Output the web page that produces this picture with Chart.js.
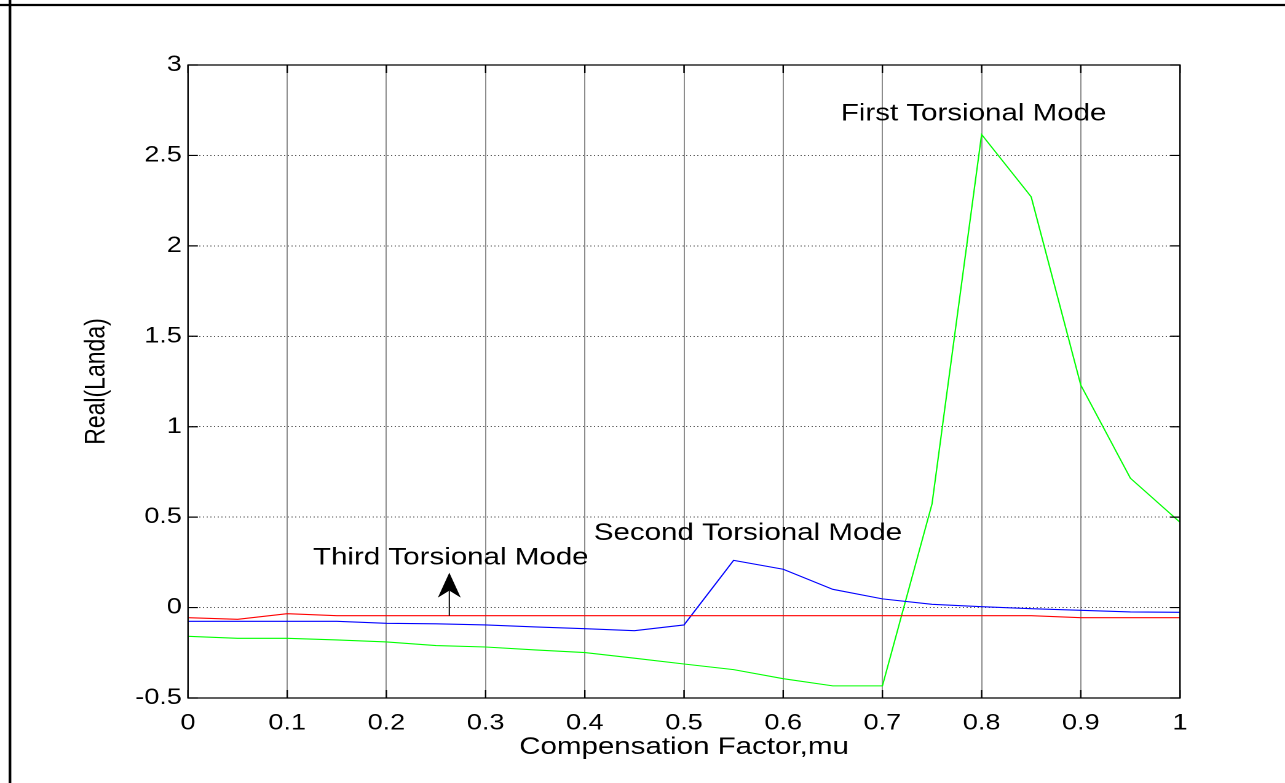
<!DOCTYPE html>
<html>
<head>
<meta charset="utf-8">
<script src="https://cdn.jsdelivr.net/npm/chart.js@4.4.1/dist/chart.umd.min.js"></script>
<style>
  html, body { margin: 0; padding: 0; background: #fff; overflow: hidden; }
  #fig { display: block; }
</style>
</head>
<body>
<!-- the figure is drawn on a narrower canvas and widened to the page, giving the wide-set lettering -->
<canvas id="fig" width="1045" height="783" style="width:1285px;height:783px"></canvas>
<script>
// compensation factor samples
const mu = [0, 0.05, 0.1, 0.15, 0.2, 0.25, 0.3, 0.35, 0.4, 0.45, 0.5,
            0.55, 0.6, 0.65, 0.7, 0.75, 0.8, 0.85, 0.9, 0.95, 1];

// real part of the eigenvalue for each torsional mode
const firstMode  = [-0.159, -0.170, -0.170, -0.179, -0.190, -0.210, -0.218, -0.234, -0.249, -0.280, -0.312,
                    -0.343, -0.393, -0.433, -0.433, 0.573, 2.616, 2.271, 1.230, 0.715, 0.472];
const secondMode = [-0.076, -0.076, -0.076, -0.076, -0.087, -0.090, -0.096, -0.107, -0.117, -0.128, -0.096,
                    0.261, 0.212, 0.101, 0.048, 0.018, 0.005, -0.006, -0.015, -0.024, -0.026];
const thirdMode  = [-0.056, -0.065, -0.034, -0.045, -0.045, -0.045, -0.045, -0.045, -0.045, -0.045, -0.045,
                    -0.045, -0.045, -0.045, -0.045, -0.045, -0.045, -0.045, -0.056, -0.056, -0.056];

const xTickValues = [0, 0.1, 0.2, 0.3, 0.4, 0.5, 0.6, 0.7, 0.8, 0.9, 1];
const xTickLabels = ['0', '0.1', '0.2', '0.3', '0.4', '0.5', '0.6', '0.7', '0.8', '0.9', '1'];
const yTickValues = [-0.5, 0, 0.5, 1, 1.5, 2, 2.5, 3];
const yTickLabels = ['-0.5', '0', '0.5', '1', '1.5', '2', '2.5', '3'];

const FONT = "'Liberation Sans', Arial, Helvetica, sans-serif";
Chart.defaults.font.family = FONT;
Chart.defaults.color = '#000';

const toPoints = (vals) => mu.map((m, i) => ({ x: m, y: vals[i] }));

// axes box, inward tick marks, figure frame and mode labels
const figureDecor = {
  id: 'figureDecor',
  afterDatasetsDraw(chart) {
    const { ctx, chartArea: a, scales: { x, y } } = chart;
    const tick = 8;
    ctx.save();

    ctx.strokeStyle = '#000';
    ctx.lineWidth = 1.2;
    ctx.beginPath();
    ctx.rect(a.left, a.top, a.right - a.left, a.bottom - a.top);
    ctx.stroke();

    ctx.lineWidth = 1.2;
    ctx.beginPath();
    xTickValues.forEach(v => {
      const px = x.getPixelForValue(v);
      ctx.moveTo(px, a.bottom); ctx.lineTo(px, a.bottom - tick);
      ctx.moveTo(px, a.top);    ctx.lineTo(px, a.top + tick);
    });
    yTickValues.forEach(v => {
      const py = y.getPixelForValue(v);
      ctx.moveTo(a.left, py);  ctx.lineTo(a.left + tick, py);
      ctx.moveTo(a.right, py); ctx.lineTo(a.right - tick, py);
    });
    ctx.stroke();

    // mode labels
    ctx.fillStyle = '#000';
    ctx.font = `24px ${FONT}`;
    ctx.textAlign = 'left';
    ctx.textBaseline = 'middle';
    ctx.fillText('First Torsional Mode',  x.getPixelForValue(0.658), y.getPixelForValue(2.73));
    ctx.fillText('Second Torsional Mode', x.getPixelForValue(0.409), y.getPixelForValue(0.41));
    ctx.fillText('Third Torsional Mode',  x.getPixelForValue(0.126), y.getPixelForValue(0.276));

    // arrow pointing at the third mode label
    const ax = x.getPixelForValue(0.2634);
    const tipY = y.getPixelForValue(0.193);
    const baseY = y.getPixelForValue(-0.045);
    const hw = 9.3, hl = 25, notch = 18;
    ctx.lineWidth = 1;
    ctx.beginPath();
    ctx.moveTo(ax, baseY); ctx.lineTo(ax, tipY + notch);
    ctx.stroke();
    ctx.beginPath();
    ctx.moveTo(ax, tipY);
    ctx.lineTo(ax + hw, tipY + hl);
    ctx.lineTo(ax, tipY + notch);
    ctx.lineTo(ax - hw, tipY + hl);
    ctx.closePath();
    ctx.fill();

    // figure frame
    ctx.lineWidth = 2.2;
    ctx.beginPath();
    ctx.moveTo(0, 5); ctx.lineTo(chart.width, 5);
    ctx.moveTo(8.1, 0); ctx.lineTo(8.1, chart.height);
    ctx.stroke();

    ctx.restore();
  }
};

new Chart(document.getElementById('fig'), {
  type: 'line',
  data: {
    datasets: [
      { label: 'Third Torsional Mode',  data: toPoints(thirdMode),  borderColor: '#ff0000' },
      { label: 'Second Torsional Mode', data: toPoints(secondMode), borderColor: '#0000ff' },
      { label: 'First Torsional Mode',  data: toPoints(firstMode),  borderColor: '#00ff00' }
    ]
  },
  options: {
    responsive: false,
    devicePixelRatio: 2,
    animation: false,
    events: [],
    layout: { padding: { top: 65, right: 85.4, bottom: 0, left: 0 } },
    elements: {
      line: { borderWidth: 1.1, tension: 0, fill: false },
      point: { radius: 0, hoverRadius: 0 }
    },
    plugins: { legend: { display: false }, tooltip: { enabled: false } },
    scales: {
      x: {
        type: 'linear',
        min: 0, max: 1,
        afterFit: s => { s.height = 85; },
        afterBuildTicks: s => { s.ticks = xTickValues.map(v => ({ value: v })); },
        ticks: {
          padding: 12,
          maxRotation: 0,
          autoSkip: false,
          font: { size: 22 },
          callback: (v, i) => xTickLabels[i]
        },
        grid: { color: '#8c8c8c', lineWidth: 1, drawTicks: false },
        border: { display: false },
        title: {
          display: true,
          text: 'Compensation Factor,mu',
          font: { size: 24 },
          padding: { top: 0, bottom: 21 }
        }
      },
      y: {
        type: 'linear',
        min: -0.5, max: 3,
        afterFit: s => { s.width = 152.9; },
        afterBuildTicks: s => { s.ticks = yTickValues.map(v => ({ value: v })); },
        ticks: {
          padding: 5,
          autoSkip: false,
          font: { size: 22 },
          callback: (v, i) => yTickLabels[i]
        },
        grid: { color: '#5a5a5a', lineWidth: 1, drawTicks: false },
        border: { display: false, dash: [1, 2] },
        title: {
          display: true,
          text: 'Real(Landa)',
          font: { size: 23 },
          padding: { top: 65, bottom: 0 }
        }
      }
    }
  },
  plugins: [figureDecor]
});
</script>
</body>
</html>
